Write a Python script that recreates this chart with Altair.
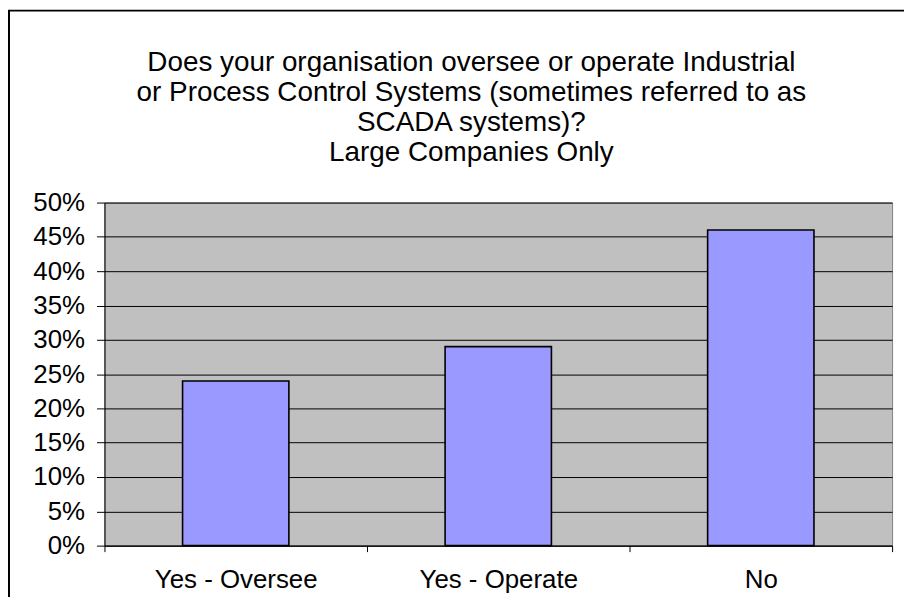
import altair as alt
import pandas as pd

categories = ["Yes - Oversee", "Yes - Operate", "No"]
shares = [0.24, 0.29, 0.46]
y_ticks = [0, 0.05, 0.10, 0.15, 0.20, 0.25, 0.30, 0.35, 0.40, 0.45, 0.50]
title_lines = [
    "Does your organisation oversee or operate Industrial",
    "or Process Control Systems (sometimes referred to as",
    "SCADA systems)?",
    "Large Companies Only",
]

df = pd.DataFrame({"category": categories, "share": shares})
FONT = "Liberation Sans"

bars = alt.Chart(df).mark_bar(
    color="#9999FF", stroke="#000000", strokeWidth=1.6,
    width=alt.RelativeBandSize(0.405),
).encode(
    x=alt.X(
        "category:N",
        sort=categories,
        title=None,
        scale=alt.Scale(paddingInner=0, paddingOuter=0),
        axis=alt.Axis(
            labelAngle=0,
            labelFont=FONT,
            labelFontSize=26,
            labelColor="#000000",
            labelPadding=15,
            tickBand="extent",
            tickSize=6,
            tickColor="#000000",
            domainColor="#000000",
            grid=False,
        ),
    ),
    y=alt.Y(
        "share:Q",
        title=None,
        scale=alt.Scale(domain=[0, 0.5], nice=False),
        axis=alt.Axis(
            values=y_ticks,
            format=".0%",
            labelFont=FONT,
            labelFontSize=26,
            labelColor="#000000",
            labelPadding=12,
            tickSize=8,
            tickColor="#000000",
            domainColor="#000000",
            grid=True,
            gridColor="#000000",
            gridWidth=1,
            gridOpacity=1,
        ),
    ),
)

frame = alt.Chart(pd.DataFrame({"k": [0]})).mark_rect(
    fill=None, stroke="#000000", strokeWidth=2
).encode(
    x=alt.value(-96),
    x2=alt.value(900),
    y=alt.value(-193),
    y2=alt.value(420),
)

chart = alt.layer(bars, frame).properties(
    width=792,
    height=345,
    padding={"left": 97, "top": 194, "right": 12, "bottom": 50},
    autosize=alt.AutoSizeParams(type="none"),
    background="#FFFFFF",
    title=alt.TitleParams(
        text=title_lines,
        font=FONT,
        fontSize=28,
        fontWeight="normal",
        color="#000000",
        lineHeight=30,
        anchor="middle",
        dx=-27,
        offset=-158,
    ),
).configure_view(
    fill="#C0C0C0", stroke="#808080", strokeWidth=1
)

chart.save("out.html", embed_options={"renderer": "svg", "actions": False})
